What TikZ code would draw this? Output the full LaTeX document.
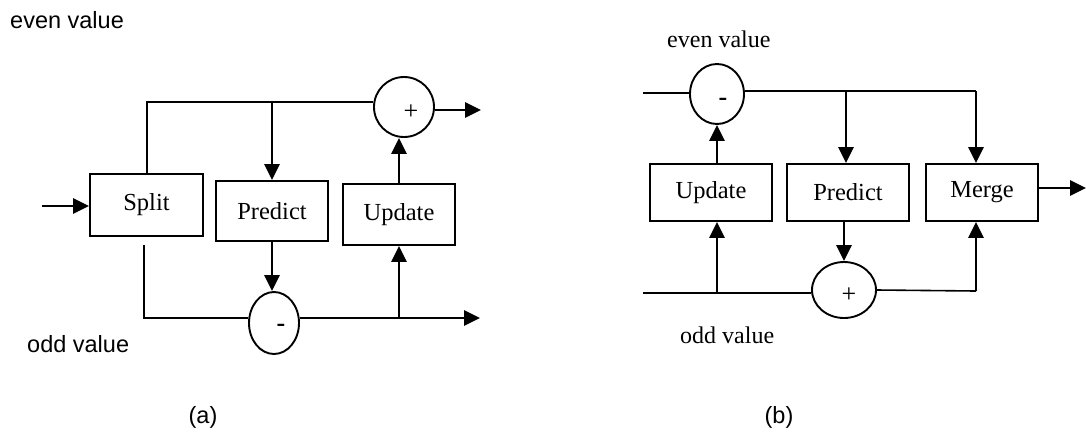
\documentclass[tikz,border=0pt]{standalone}
\usepackage{fontspec}
\setmainfont{Liberation Serif}
\newfontfamily\arialfont{Liberation Sans}
\usetikzlibrary{arrows.meta,shapes.geometric}
\begin{document}
\begin{tikzpicture}[x=1pt,y=-1pt,
  blk/.style={draw,line width=1.9pt,inner sep=0pt,font=\fontsize{24.5}{28}\selectfont},
  sumnode/.style={draw,ellipse,line width=1.9pt,inner sep=0pt},
  thinline/.style={line width=1.6pt},
  thickline/.style={line width=2.9pt},
  flow/.style={line width=2.9pt,-{Triangle[length=16pt,width=15pt]}},
  sansl/.style={font=\arialfont\fontsize{23.5}{28}\selectfont,inner sep=0pt},
  serifl/.style={font=\fontsize{24}{28}\selectfont,inner sep=0pt},
  sgn/.style={font=\fontsize{26}{28}\selectfont,inner sep=0pt}]
\useasboundingbox (0,0) rectangle (1086,432);

% ---------------- panel (a) ----------------
\node[sansl,anchor=base west] (evena) at (10,28) {even value};
\node[sansl,anchor=base west] (odda) at (27,352) {odd value};
\node[sansl,anchor=base] (capa) at (203,423) {(a)};

\node[blk,minimum width=113pt,minimum height=62pt] (split) at (146.5,205) {\raisebox{2pt}{Split}};
\node[blk,minimum width=112pt,minimum height=60pt] (predict) at (272,211) {Predict};
\node[blk,minimum width=112pt,minimum height=61pt] (update) at (399,214.5) {Update};
\node[sumnode,minimum width=60pt,minimum height=60pt] (plusa) at (404,107) {};
\node[sgn] (plusasgn) at (411,112) {+};
\node[sumnode,minimum width=50pt,minimum height=62pt] (minusa) at (274,323) {};
\node[sgn] (minusasgn) at (281,328) {\textbf{-}};

\coordinate (ina) at (42,206);
\coordinate (topa) at (147,102);
\coordinate (sb) at (144,245);
\coordinate (ob) at (144,318);
\coordinate (outa) at (480,318);
\coordinate (outb) at (481,110);

\draw[flow] (ina) -- (ina -| split.west);
\draw[thinline] (split.north -| topa) -- (topa) -- (topa -| plusa.west);
\draw[flow] (predict.north |- topa) -- (predict.north);
\draw[flow] (update.north) -- (update.north |- plusa.south);
\draw[flow] (plusa.east |- outb) -- (outb);
\draw[thinline] (sb) -- (ob) -- (ob -| minusa.west);
\draw[flow] (predict.south) -- (predict.south |- minusa.north);
\draw[flow] (ob -| minusa.east) -- (outa);
\draw[flow] (update.south |- outa) -- (update.south);

% ---------------- panel (b) ----------------
\node[serifl,anchor=base west] (evenb) at (667,47) {even value};
\node[serifl,anchor=base west] (oddb) at (680,343) {odd value};
\node[sansl,anchor=base] (capb) at (779,423) {(b)};

\node[blk,minimum width=122pt,minimum height=57pt] (update2) at (711,192.5) {Update};
\node[blk,minimum width=122pt,minimum height=57pt] (predict2) at (848,192.5) {Predict};
\node[blk,minimum width=112pt,minimum height=57pt] (merge) at (982,192.5) {Merge};
\node[sumnode,minimum width=54pt,minimum height=60pt] (minusb) at (717,94) {};
\node[sgn] (minusbsgn) at (723,102) {\textbf{-}};
\node[sumnode,minimum width=64pt,minimum height=56pt] (plusb) at (844,290) {};
\node[sgn] (plusbsgn) at (849,295) {+};

\coordinate (lb) at (643,93);
\coordinate (tb) at (976,91);
\coordinate (bl) at (643,293);
\coordinate (mb) at (976,291);
\coordinate (outm) at (1086,188);

\draw[thinline] (lb) -- (lb -| minusb.west);
\draw[thinline] (tb -| minusb.east) -- (tb);
\draw[flow] (tb -| predict2.north) ++(-2,0) -- ++(0,72);
\draw[flow] (tb) -- (tb |- merge.north);
\draw[flow] (minusb.south |- update2.north) -- (minusb.south);
\draw[thickline] (bl) -- (bl -| plusb.west);
\draw[flow] (minusb.south |- bl) -- (minusb.south |- update2.south);
\draw[flow] (plusb.north |- predict2.south) -- (plusb.north);
\draw[thinline] (plusb.east) -- (mb);
\draw[flow] (mb) -- (mb |- merge.south);
\draw[flow] (merge.east |- outm) -- (outm);
\end{tikzpicture}
\end{document}
